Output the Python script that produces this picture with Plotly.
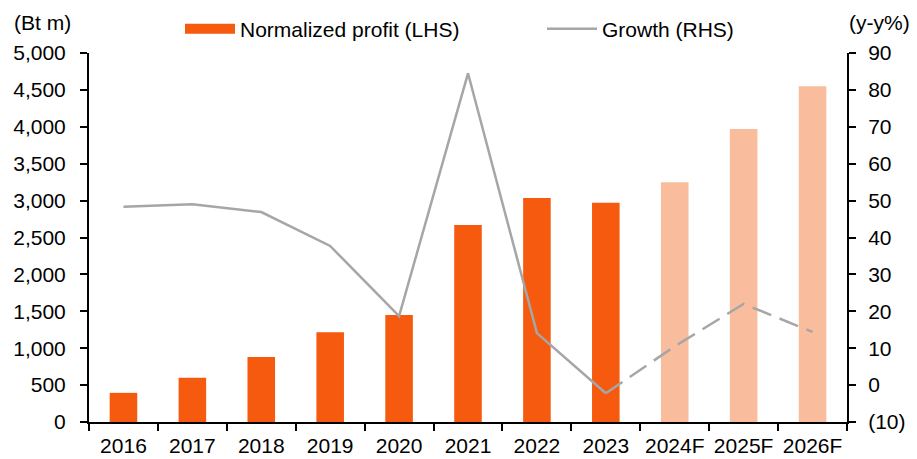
import plotly.graph_objects as go

# ── Data ──────────────────────────────────────────────────────────────────────
years = ["2016", "2017", "2018", "2019", "2020", "2021", "2022", "2023",
         "2024F", "2025F", "2026F"]
profit = [395, 600, 880, 1215, 1450, 2670, 3035, 2970, 3250, 3970, 4550]
growth = [48.3, 49.0, 46.9, 37.7, 18.7, 84.5, 14.1, -2.2, 10.5, 22.0, 14.4]
n_actual = 8  # 2016-2023 actual, rest forecast

left_ticks = [0, 500, 1000, 1500, 2000, 2500, 3000, 3500, 4000, 4500, 5000]
right_ticks = [-10, 0, 10, 20, 30, 40, 50, 60, 70, 80, 90]
right_labels = ["(10)", "0", "10", "20", "30", "40", "50", "60", "70", "80", "90"]

# ── Colours ───────────────────────────────────────────────────────────────────
ORANGE = "#F55A0F"
PEACH  = "#F9BD9D"
GREY   = "#A6A6A6"
FONT   = "Liberation Sans, Arial, sans-serif"

bar_colors = [ORANGE] * n_actual + [PEACH] * (len(years) - n_actual)

fig = go.Figure()
fig.add_trace(go.Bar(
    x=years, y=profit, marker=dict(color=bar_colors, line=dict(width=0)),
    width=0.4, showlegend=False,
))
# legend stand-in for the bars (wide rectangle)
fig.add_trace(go.Scatter(
    x=[None], y=[None], mode="lines", name="Normalized profit (LHS)",
    line=dict(color=ORANGE, width=11),
))
fig.add_trace(go.Scatter(
    x=years[:n_actual], y=growth[:n_actual], mode="lines", yaxis="y2",
    name="Growth (RHS)", line=dict(color=GREY, width=2.5),
))
fig.add_trace(go.Scatter(
    x=years[n_actual - 1:], y=growth[n_actual - 1:], mode="lines", yaxis="y2",
    showlegend=False, line=dict(color=GREY, width=2.5, dash="20px,9px"),
))

axis_font = dict(family=FONT, size=21, color="#000000")

fig.update_layout(
    width=917, height=459,
    paper_bgcolor="white", plot_bgcolor="white",
    font=axis_font,
    margin=dict(l=81, r=78, t=45, b=45, autoexpand=False),
    showlegend=True,
    legend=dict(
        orientation="h", x=172 / 917, xref="container", xanchor="left",
        y=1 - 21 / 459, yref="container", yanchor="middle",
        font=dict(family=FONT, size=21), itemwidth=50, entrywidth=297,
        traceorder="normal", bgcolor="rgba(0,0,0,0)",
    ),
    xaxis=dict(
        type="category", tickson="boundaries", ticks="outside", ticklen=7,
        tickwidth=2, tickcolor="black", showline=True, linecolor="black",
        linewidth=2, showgrid=False, tickfont=axis_font, tickangle=0,
        ticklabelstandoff=4,
    ),
    yaxis=dict(
        range=[0, 5000], tickvals=left_ticks, tickformat=",d",
        ticks="outside", ticklen=7, tickwidth=2, tickcolor="black",
        showline=True, linecolor="black", linewidth=2, showgrid=False,
        zeroline=False, tickfont=axis_font, ticklabelstandoff=10,
    ),
    yaxis2=dict(
        overlaying="y", side="right", range=[-10, 90],
        tickvals=right_ticks, ticktext=right_labels,
        ticks="outside", ticklen=7, tickwidth=2, tickcolor="black",
        showline=True, linecolor="black", linewidth=2, showgrid=False,
        zeroline=False, tickfont=axis_font, ticklabelstandoff=8,
    ),
    annotations=[
        dict(text="(Bt m)", xref="paper", yref="paper", x=-0.1016, y=1.084,
             xanchor="left", yanchor="middle", showarrow=False, font=axis_font),
        dict(text="(y-y%)", xref="paper", yref="paper", x=1.0, y=1.084,
             xanchor="left", yanchor="middle", showarrow=False, font=axis_font),
    ],
)

fig.write_html("out.html")
